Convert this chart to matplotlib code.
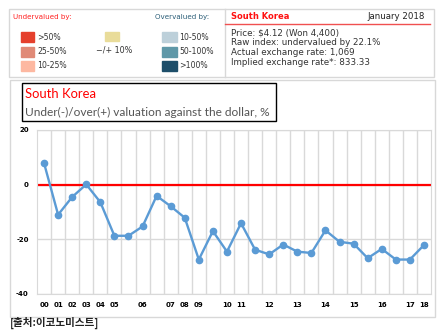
import matplotlib
matplotlib.use("Agg")
import matplotlib.pyplot as plt
from matplotlib.patches import Rectangle

# data
years = ["00", "01", "02", "03", "04", "05", "", "06", "", "07", "08", "09", "",
         "10", "11", "", "12", "", "13", "", "14", "", "15", "", "16", "", "17", "18"]
valuation = [7.9, -11.0, -4.5, 0.1, -6.4, -18.7, -18.7, -15.3, -4.1, -7.9, -12.1,
             -27.4, -17.0, -24.5, -14.1, -23.8, -25.5, -21.9, -24.5, -25.0, -16.7,
             -20.9, -21.6, -26.9, -23.5, -27.4, -27.4, -22.1]
yticks = [20, 0, -20, -40]

under_labels = [">50%", "25-50%", "10-25%"]
under_colors = ["#e5402d", "#e08a77", "#fdb8a1"]
over_labels = ["10-50%", "50-100%", ">100%"]
over_colors = ["#bdd0da", "#5f98a8", "#1d4e6a"]
info_lines = ["Price: $4.12 (Won 4,400)",
              "Raw index: undervalued by 22.1%",
              "Actual exchange rate: 1,069",
              "Implied exchange rate*: 833.33"]

W, H = 448, 330
fig = plt.figure(figsize=(W / 100, H / 100), dpi=100)


def fx(x):
    return x / W


def fy(y):
    return 1 - y / H


def box(x0, y0, x1, y1, **kw):
    fig.add_artist(Rectangle((fx(x0), fy(y1)), fx(x1 - x0), (y1 - y0) / H,
                             transform=fig.transFigure, **kw))


def txt(x, y, s, **kw):
    fig.text(fx(x), fy(y), s, va="center", **kw)


# top legend panel
box(9, 9, 434, 77, fill=False, edgecolor="#d8d8d8", lw=1)
fig.add_artist(plt.Line2D([fx(225), fx(225)], [fy(9), fy(77)], color="#d8d8d8", lw=1))
fig.add_artist(plt.Line2D([fx(225), fx(430)], [fy(24), fy(24)], color="#f05050", lw=1))

txt(13, 17, "Undervalued by:", color="#ff2020", fontsize=5.1)
txt(155, 17, "Overvalued by:", color="#2a5d77", fontsize=5.1)
for i, (lab, c) in enumerate(zip(under_labels, under_colors)):
    y = 37 + i * 14.5
    box(21, y - 5, 34, y + 5, color=c)
    txt(37, y, lab, color="#333333", fontsize=5.6)
box(105, 32, 119, 41, color="#e9dc9a")
txt(96, 50, "\u2212/+ 10%", color="#333333", fontsize=5.8)
for i, (lab, c) in enumerate(zip(over_labels, over_colors)):
    y = 37 + i * 14.5
    box(162, y - 5, 177, y + 5, color=c)
    txt(179, y, lab, color="#333333", fontsize=5.6)

txt(231, 16.5, "South Korea", color="#ff1010", fontsize=6, fontweight="bold")
txt(425, 16.5, "January 2018", color="#222222", fontsize=6.2, ha="right")
for i, line in enumerate(info_lines):
    txt(231, 33 + i * 9.7, line, color="#333333", fontsize=6.3)

# chart panel
box(10, 80, 435, 317, fill=False, edgecolor="#d8d8d8", lw=1)
box(22, 83, 276, 121, fill=False, edgecolor="black", lw=1)
txt(25, 94, "South Korea", color="#ff0000", fontsize=9.4, family="Lato")
txt(25, 112, "Under(-)/over(+) valuation against the dollar, %",
    color="#555555", fontsize=8.6, family="Lato")

ax = fig.add_axes([fx(37), fy(294), fx(431 - 37), (294 - 130) / H])
x = list(range(len(valuation)))
ax.plot(x, valuation, color="#5b9bd5", lw=1.7, marker="o", ms=4.5, zorder=3)
ax.axhline(0, color="#ff0000", lw=1.6, zorder=2)
ax.set_xlim(-0.5, len(valuation) - 0.5)
ax.set_ylim(-40, 20)
ax.set_yticks(yticks)
ax.set_yticklabels([str(v) for v in yticks], fontsize=5, fontweight="bold")
ax.set_xticks(x)
ax.set_xticklabels(years, fontsize=5, fontweight="bold")
ax.set_xticks([i + 0.5 for i in x[:-1]], minor=True)
ax.tick_params(length=0, pad=6)
ax.tick_params(which="minor", length=0)
ax.grid(axis="y", color="#d9d9d9", lw=1)
ax.grid(axis="x", which="minor", color="#d9d9d9", lw=1)
for s in ax.spines.values():
    s.set_color("#d9d9d9")
ax.set_axisbelow(True)

fig.text(fx(10), fy(323), "[출처:이코노미스트]", fontsize=7.6, fontweight="bold",
         color="#222222", va="center", family=["Noto Sans CJK KR", "DejaVu Sans"])

fig.savefig("out.png", dpi=100)
